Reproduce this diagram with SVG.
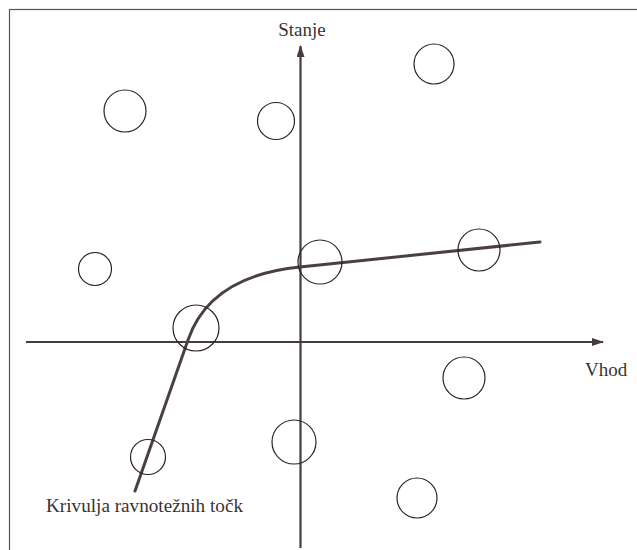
<svg xmlns="http://www.w3.org/2000/svg" width="637" height="550" viewBox="0 0 637 550">
<style>
.frame{fill:none;stroke:#555;stroke-width:1.2}
.axis{fill:none;stroke:#463c3c;stroke-width:2.2}
.curve{fill:none;stroke:#4a4040;stroke-width:3;stroke-linecap:round;stroke-linejoin:round}
.pt circle{fill:none;stroke:#2a2424;stroke-width:1.2}
</style>
<defs>
<marker id="arr" viewBox="0 0 12 8" refX="11" refY="4" markerWidth="12" markerHeight="8" markerUnits="userSpaceOnUse" orient="auto">
<path d="M0,0 L12,4 L0,8 Z" fill="#463c3c"/>
</marker>
</defs>
<rect class="frame" x="9.5" y="9.5" width="640" height="560"/>
<g id="connectors">
<line id="x-axis" class="axis" x1="26" y1="342" x2="603" y2="342" marker-end="url(#arr)"/>
<line id="y-axis" class="axis" x1="300.5" y1="548" x2="300.5" y2="46" marker-end="url(#arr)"/>
<path id="equilibrium-curve" class="curve" d="M135,491 L188,340 C205,290 250,272 300,267 L540,242"/>
</g>
<g class="pt">
<g id="p1"><circle cx="434" cy="64" r="20"/></g>
<g id="p2"><circle cx="125" cy="111" r="21"/></g>
<g id="p3"><circle cx="276" cy="121" r="18.5"/></g>
<g id="p4"><circle cx="95" cy="269" r="16.5"/></g>
<g id="p5"><circle cx="320" cy="262" r="22"/></g>
<g id="p6"><circle cx="479" cy="250" r="21"/></g>
<g id="p7"><circle cx="196" cy="328" r="23"/></g>
<g id="p8"><circle cx="464" cy="378" r="21"/></g>
<g id="p9"><circle cx="294" cy="442" r="22"/></g>
<g id="p10"><circle cx="148" cy="457" r="17.5"/></g>
<g id="p11"><circle cx="417" cy="498" r="20"/></g>
</g>
<g id="labels" font-family="Liberation Serif" font-size="19" fill="#3a3232">
<text id="lbl-stanje" x="302" y="36" text-anchor="middle">Stanje</text>
<text id="lbl-vhod" x="585" y="376">Vhod</text>
<text id="lbl-curve" x="46" y="512" textLength="197" lengthAdjust="spacingAndGlyphs">Krivulja ravnotežnih točk</text>
</g>
</svg>
